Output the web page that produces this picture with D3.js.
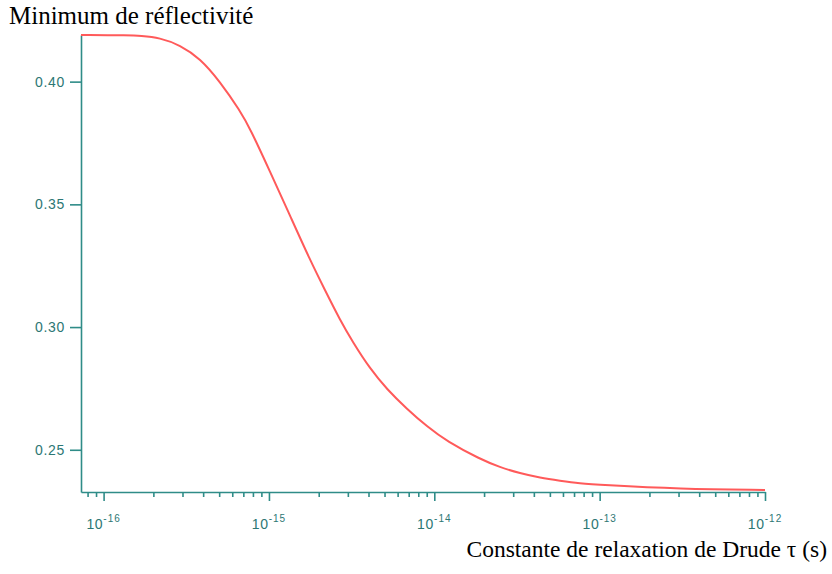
<!DOCTYPE html>
<html>
<head>
<meta charset="utf-8">
<script src="https://cdn.jsdelivr.net/npm/d3@7"></script>
<style>
  body { margin: 0; background: #fff; }
  .axis path, .axis line { stroke: #2f8c88; stroke-width: 1.6; }
  .axis text { fill: #2d7774; font-family: "Liberation Sans", Arial, sans-serif; font-size: 14px; letter-spacing: 0.7px; }
  .ttl { font-family: "Liberation Serif", "Times New Roman", serif; fill: #000; }
</style>
</head>
<body>
<div id="chart"></div>
<script>
// values
var tau = [7.3e-17, 1.445e-16, 1.66e-16, 2.19e-16, 2.90e-16, 3.83e-16, 5.06e-16, 6.68e-16, 7.69e-16,
           1.016e-15, 1.343e-15, 1.772e-15, 2.18e-15, 2.69e-15, 3.22e-15, 4.08e-15, 5.18e-15, 6.84e-15, 9.03e-15,
           1.194e-14, 1.89e-14, 2.49e-14, 3.30e-14, 4.36e-14, 5.75e-14, 7.60e-14,
           1.005e-13, 3.06e-13, 1e-12];
var rmin = [0.4190, 0.4189, 0.4187, 0.4179, 0.4149, 0.4095, 0.4000, 0.3882, 0.3809,
            0.3633, 0.3453, 0.3273, 0.3151, 0.3029, 0.2938, 0.2831, 0.2746, 0.2666, 0.2595,
            0.2534, 0.2462, 0.2429, 0.2404, 0.2386, 0.2374, 0.2363,
            0.2357, 0.2340, 0.2336];
var yTicks = [0.25, 0.30, 0.35, 0.40];
var xDecades = [-16, -15, -14, -13, -12];

var svg = d3.select("#chart")
      .append("svg")
      .attr("width", 832)
      .attr("height", 574);

var margin = {top: 35, right: 67, bottom: 82, left: 81},
    width = 832 - margin.left - margin.right,
    height = 574 - margin.top - margin.bottom;

var g = svg.append("g").attr("transform", "translate(" + margin.left + "," + margin.top + ")");

var x = d3.scaleLog()
    .domain([7.3e-17, 1e-12])
    .range([0, width]);

var y = d3.scaleLinear()
    .domain([0.2328, 0.419])
    .range([height, 0]);

var data = tau.map(function(t, i) { return {t: t, r: rmin[i]}; });

// x axis, minor ticks everywhere, longer ones at each decade
var xAxis = g.append("g")
    .attr("class", "axis")
    .attr("transform", "translate(0," + height + ")")
    .call(d3.axisBottom(x).tickValues(x.ticks()).tickFormat("").tickSize(5).tickSizeOuter(0));

xAxis.selectAll(".tick line")
    .attr("y2", function(d) {
      var e = Math.log10(d);
      return Math.abs(e - Math.round(e)) < 1e-6 ? 9 : 5;
    });

xAxis.selectAll(".tick text").remove();

var labels = g.append("g").attr("class", "axis");
xDecades.forEach(function(e) {
  var t = labels.append("text")
      .attr("x", x(Math.pow(10, e)))
      .attr("y", height + 37)
      .attr("text-anchor", "middle");
  t.append("tspan").text("10");
  t.append("tspan")
      .attr("dy", -7)
      .attr("font-size", 10)
      .attr("letter-spacing", 1)
      .text("-" + Math.abs(e));
});

g.append("g")
    .attr("class", "axis")
    .call(d3.axisLeft(y).tickValues(yTicks).tickFormat(d3.format(".2f")).tickSize(11).tickPadding(5).tickSizeOuter(0));

var line = d3.line()
    .x(function(d) { return x(d.t); })
    .y(function(d) { return y(d.r); })
    .curve(d3.curveBasis);

g.append("path")
    .datum(data)
    .attr("fill", "none")
    .attr("stroke", "#ff5a5a")
    .attr("stroke-width", 2)
    .attr("d", line);

svg.append("text")
    .attr("class", "ttl")
    .attr("x", 9)
    .attr("y", 24)
    .attr("font-size", 25)
    .text("Minimum de réflectivité");

svg.append("text")
    .attr("class", "ttl")
    .attr("x", 827)
    .attr("y", 557)
    .attr("text-anchor", "end")
    .attr("font-size", 23.5)
    .text("Constante de relaxation de Drude τ (s)");
</script>
</body>
</html>
